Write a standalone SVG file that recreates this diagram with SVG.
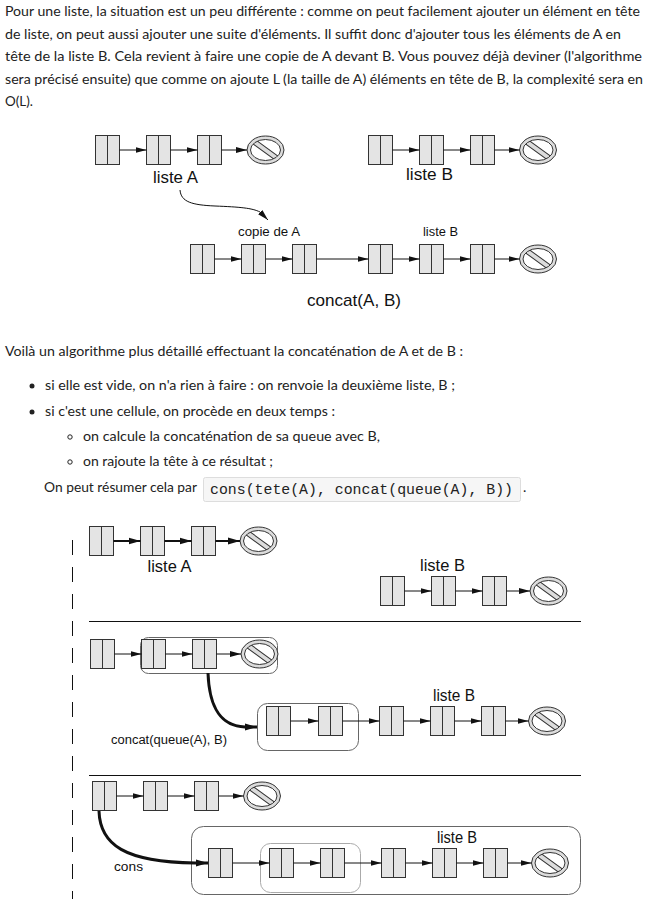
<svg xmlns="http://www.w3.org/2000/svg" xmlns:xlink="http://www.w3.org/1999/xlink" width="647" height="899" viewBox="0 0 647 899">
<style>
.p{font-family:Lato,"Source Sans Pro","Open Sans",sans-serif;font-size:14px;fill:#222}
.d{font-family:"Liberation Sans",Arial,sans-serif;fill:#111}
.code{font-family:"Liberation Mono","Courier New",monospace;font-size:14px;fill:#222}
.ln{stroke:#111;stroke-width:1;fill:none}
.lnb{stroke:#111;stroke-width:2;fill:none}
.curve{stroke:#111;stroke-width:3;fill:none}
.box{fill:none;stroke:#666;stroke-width:1}
.boxl{fill:none;stroke:#aaa;stroke-width:1}
</style>
<defs>
<g id="cell"><rect x="0" y="0" width="24" height="29" fill="#e4e4e4" stroke="#333"/><line x1="12" y1="0" x2="12" y2="29" stroke="#333"/></g>
<clipPath id="nc"><ellipse cx="0" cy="0" rx="15" ry="10.5"/></clipPath>
<g id="null">
<ellipse cx="0" cy="0" rx="18.5" ry="14" fill="#dcdcdc" stroke="#333"/>
<ellipse cx="0" cy="0" rx="15" ry="10.5" fill="#fff"/>
<g clip-path="url(#nc)"><rect x="-20" y="-2.4" width="40" height="4.8" fill="#dcdcdc" stroke="#333" transform="rotate(36)"/></g>
<ellipse cx="0" cy="0" rx="15" ry="10.5" fill="none" stroke="#333"/>
</g>
<marker id="ah" markerUnits="userSpaceOnUse" viewBox="0 0 11 7" refX="11" refY="3.5" markerWidth="11" markerHeight="7" orient="auto"><path d="M0,0.5 L11,3.5 L0,6.5 z" fill="#111"/></marker>
<marker id="ahb" markerUnits="userSpaceOnUse" viewBox="0 0 12 8" refX="12" refY="4" markerWidth="12" markerHeight="8" orient="auto"><path d="M0,0.5 L12,4 L0,7.5 z" fill="#111"/></marker>
</defs>

<g id="paragraph1" class="p">
<text x="5" y="16" textLength="635" lengthAdjust="spacingAndGlyphs">Pour une liste, la situation est un peu différente : comme on peut facilement ajouter un élément en tête</text>
<text x="5" y="38.6" textLength="616" lengthAdjust="spacingAndGlyphs">de liste, on peut aussi ajouter une suite d'éléments. Il suffit donc d'ajouter tous les éléments de A en</text>
<text x="5" y="61.2" textLength="637" lengthAdjust="spacingAndGlyphs">tête de la liste B. Cela revient à faire une copie de A devant B. Vous pouvez déjà deviner (l'algorithme</text>
<text x="5" y="83.8" textLength="638" lengthAdjust="spacingAndGlyphs">sera précisé ensuite) que comme on ajoute L (la taille de A) éléments en tête de B, la complexité sera en</text>
<text x="5" y="106.4" textLength="28" lengthAdjust="spacingAndGlyphs">O(L).</text>
</g>

<!-- Diagram 1 -->
<g id="d1-A1"><use xlink:href="#cell" x="95.5" y="135.5"/></g>
<g id="d1-A2"><use xlink:href="#cell" x="146.5" y="135.5"/></g>
<g id="d1-A3"><use xlink:href="#cell" x="197.5" y="135.5"/></g>
<g id="d1-Anull"><use xlink:href="#null" x="265.5" y="150"/></g>
<g id="d1-B1"><use xlink:href="#cell" x="368.5" y="135.5"/></g>
<g id="d1-B2"><use xlink:href="#cell" x="419.5" y="135.5"/></g>
<g id="d1-B3"><use xlink:href="#cell" x="470.5" y="135.5"/></g>
<g id="d1-Bnull"><use xlink:href="#null" x="538" y="150"/></g>
<g id="d1-C1"><use xlink:href="#cell" x="190.5" y="244.5"/></g>
<g id="d1-C2"><use xlink:href="#cell" x="241.5" y="244.5"/></g>
<g id="d1-C3"><use xlink:href="#cell" x="292.5" y="244.5"/></g>
<g id="d1-C4"><use xlink:href="#cell" x="368.5" y="244.5"/></g>
<g id="d1-C5"><use xlink:href="#cell" x="419.5" y="244.5"/></g>
<g id="d1-C6"><use xlink:href="#cell" x="470.5" y="244.5"/></g>
<g id="d1-Cnull"><use xlink:href="#null" x="538" y="259"/></g>
<g id="d1-labels" class="d">
<text x="153" y="183" font-size="16.5" textLength="45" lengthAdjust="spacingAndGlyphs">liste A</text>
<text x="406" y="180" font-size="16.5" textLength="47" lengthAdjust="spacingAndGlyphs">liste B</text>
<text x="238" y="236" font-size="12" textLength="62" lengthAdjust="spacingAndGlyphs">copie de A</text>
<text x="423" y="236" font-size="12" textLength="35" lengthAdjust="spacingAndGlyphs">liste B</text>
<text x="307" y="306" font-size="17" textLength="94" lengthAdjust="spacingAndGlyphs">concat(A, B)</text>
</g>

<!-- Text block 2 -->
<g id="paragraph2" class="p">
<text x="5" y="356" textLength="458" lengthAdjust="spacingAndGlyphs">Voilà un algorithme plus détaillé effectuant la concaténation de A et de B :</text>
<circle cx="32" cy="386" r="2.5" fill="#222"/>
<text x="45" y="390" textLength="410" lengthAdjust="spacingAndGlyphs">si elle est vide, on n'a rien à faire : on renvoie la deuxième liste, B ;</text>
<circle cx="32" cy="412" r="2.5" fill="#222"/>
<text x="45" y="416" textLength="290" lengthAdjust="spacingAndGlyphs">si c'est une cellule, on procède en deux temps :</text>
<circle cx="70" cy="437" r="2.2" fill="none" stroke="#222" stroke-width="1"/>
<text x="83" y="441" textLength="297" lengthAdjust="spacingAndGlyphs">on calcule la concaténation de sa queue avec B,</text>
<circle cx="70" cy="462" r="2.2" fill="none" stroke="#222" stroke-width="1"/>
<text x="83" y="466" textLength="190" lengthAdjust="spacingAndGlyphs">on rajoute la tête à ce résultat ;</text>
<text x="44" y="492" textLength="153" lengthAdjust="spacingAndGlyphs">On peut résumer cela par</text>
<rect x="203.5" y="477.5" width="317" height="24" rx="2" fill="#f6f6f6" stroke="#ddd"/>
<text x="210" y="494" class="code" textLength="303" lengthAdjust="spacingAndGlyphs">cons(tete(A), concat(queue(A), B))</text>
<text x="523" y="492">.</text>
</g>

<!-- Diagram 2 -->
<g id="dashed"><line x1="72.5" y1="540" x2="72.5" y2="899" stroke="#111" stroke-width="1" stroke-dasharray="15 12"/></g>
<g id="separators">
<line x1="89" y1="621.5" x2="581" y2="621.5" stroke="#111"/>
<line x1="89" y1="775.5" x2="581" y2="775.5" stroke="#111"/>
</g>

<g id="s1-A1"><use xlink:href="#cell" x="89.5" y="526.5"/></g>
<g id="s1-A2"><use xlink:href="#cell" x="140.5" y="526.5"/></g>
<g id="s1-A3"><use xlink:href="#cell" x="191.5" y="526.5"/></g>
<g id="s1-Anull"><use xlink:href="#null" x="258.5" y="541"/></g>
<g id="s1-B1"><use xlink:href="#cell" x="380.5" y="576.5"/></g>
<g id="s1-B2"><use xlink:href="#cell" x="431.5" y="576.5"/></g>
<g id="s1-B3"><use xlink:href="#cell" x="482.5" y="576.5"/></g>
<g id="s1-Bnull"><use xlink:href="#null" x="548.5" y="591"/></g>

<g id="s2-box1"><rect class="box" x="140.5" y="637.5" width="137" height="36" rx="8"/></g>
<g id="s2-A1"><use xlink:href="#cell" x="90.5" y="639.5"/></g>
<g id="s2-A2"><use xlink:href="#cell" x="141.5" y="639.5"/></g>
<g id="s2-A3"><use xlink:href="#cell" x="192.5" y="639.5"/></g>
<g id="s2-Anull"><use xlink:href="#null" x="259.5" y="654"/></g>
<g id="s2-box2"><rect class="box" x="257.5" y="703.5" width="101" height="47" rx="10"/></g>
<g id="s2-C1"><use xlink:href="#cell" x="266.5" y="706.5"/></g>
<g id="s2-C2"><use xlink:href="#cell" x="318.5" y="706.5"/></g>
<g id="s2-C3"><use xlink:href="#cell" x="379.5" y="706.5"/></g>
<g id="s2-C4"><use xlink:href="#cell" x="430.5" y="706.5"/></g>
<g id="s2-C5"><use xlink:href="#cell" x="481.5" y="706.5"/></g>
<g id="s2-Cnull"><use xlink:href="#null" x="547" y="721"/></g>

<g id="s3-bigbox"><rect class="box" x="191.5" y="826.5" width="389" height="68" rx="12"/></g>
<g id="s3-innerbox"><rect class="boxl" x="260.5" y="843.5" width="100" height="49" rx="10"/></g>
<g id="s3-A1"><use xlink:href="#cell" x="92.5" y="781.5"/></g>
<g id="s3-A2"><use xlink:href="#cell" x="143.5" y="781.5"/></g>
<g id="s3-A3"><use xlink:href="#cell" x="194.5" y="781.5"/></g>
<g id="s3-Anull"><use xlink:href="#null" x="262" y="796"/></g>
<g id="s3-C1"><use xlink:href="#cell" x="208.5" y="848.5"/></g>
<g id="s3-C2"><use xlink:href="#cell" x="269.5" y="848.5"/></g>
<g id="s3-C3"><use xlink:href="#cell" x="320.5" y="848.5"/></g>
<g id="s3-C4"><use xlink:href="#cell" x="381.5" y="848.5"/></g>
<g id="s3-C5"><use xlink:href="#cell" x="432.5" y="848.5"/></g>
<g id="s3-C6"><use xlink:href="#cell" x="483.5" y="848.5"/></g>
<g id="s3-Cnull"><use xlink:href="#null" x="550" y="863"/></g>

<g id="d2-labels" class="d">
<text x="147.5" y="572" font-size="16.5" textLength="44" lengthAdjust="spacingAndGlyphs">liste A</text>
<text x="420" y="571" font-size="16.5" textLength="45" lengthAdjust="spacingAndGlyphs">liste B</text>
<text x="433" y="701" font-size="16" textLength="42" lengthAdjust="spacingAndGlyphs">liste B</text>
<text x="111" y="744" font-size="12.5" textLength="116" lengthAdjust="spacingAndGlyphs">concat(queue(A), B)</text>
<text x="437" y="843" font-size="16" textLength="40" lengthAdjust="spacingAndGlyphs">liste B</text>
<text x="114" y="871" font-size="13" textLength="29" lengthAdjust="spacingAndGlyphs">cons</text>
</g>

<g id="connectors">
<!-- diagram 1 -->
<path class="ln" marker-end="url(#ah)" d="M119.5,150 H146.5"/>
<path class="ln" marker-end="url(#ah)" d="M170.5,150 H197.5"/>
<path class="ln" marker-end="url(#ah)" d="M221.5,150 H247"/>
<path class="ln" marker-end="url(#ah)" d="M392.5,150 H419.5"/>
<path class="ln" marker-end="url(#ah)" d="M443.5,150 H470.5"/>
<path class="ln" marker-end="url(#ah)" d="M494.5,150 H519.5"/>
<path class="ln" marker-end="url(#ah)" d="M214.5,259 H241.5"/>
<path class="ln" marker-end="url(#ah)" d="M265.5,259 H292.5"/>
<path class="ln" marker-end="url(#ah)" d="M316.5,259 H368.5"/>
<path class="ln" marker-end="url(#ah)" d="M392.5,259 H419.5"/>
<path class="ln" marker-end="url(#ah)" d="M443.5,259 H470.5"/>
<path class="ln" marker-end="url(#ah)" d="M494.5,259 H519.5"/>
<path class="ln" marker-end="url(#ah)" d="M180,190 C181,202 192,205 215,206 C240,207 252,208 260,212 L268,220"/>
<!-- section 1 -->
<path class="lnb" marker-end="url(#ahb)" d="M113.5,541 H140.5"/>
<path class="lnb" marker-end="url(#ahb)" d="M164.5,541 H191.5"/>
<path class="lnb" marker-end="url(#ahb)" d="M215.5,541 H240"/>
<path class="ln" marker-end="url(#ah)" d="M404.5,591 H431.5"/>
<path class="ln" marker-end="url(#ah)" d="M455.5,591 H482.5"/>
<path class="ln" marker-end="url(#ah)" d="M506.5,591 H530"/>
<!-- section 2 -->
<path class="ln" marker-end="url(#ah)" d="M114.5,654 H141.5"/>
<path class="ln" marker-end="url(#ah)" d="M165.5,654 H192.5"/>
<path class="ln" marker-end="url(#ah)" d="M216.5,654 H241"/>
<path class="ln" marker-end="url(#ah)" d="M290.5,721 H318.5"/>
<path class="ln" marker-end="url(#ah)" d="M342.5,721 H379.5"/>
<path class="ln" marker-end="url(#ah)" d="M403.5,721 H430.5"/>
<path class="ln" marker-end="url(#ah)" d="M454.5,721 H481.5"/>
<path class="ln" marker-end="url(#ah)" d="M505.5,721 H528.5"/>
<path class="curve" marker-end="url(#ahb)" d="M208,673 C209,700 216,726 245,727 L257,727"/>
<!-- section 3 -->
<path class="ln" marker-end="url(#ah)" d="M116.5,796 H143.5"/>
<path class="ln" marker-end="url(#ah)" d="M167.5,796 H194.5"/>
<path class="ln" marker-end="url(#ah)" d="M218.5,796 H243.5"/>
<path class="ln" marker-end="url(#ah)" d="M232.5,863 H269.5"/>
<path class="ln" marker-end="url(#ah)" d="M293.5,863 H320.5"/>
<path class="ln" marker-end="url(#ah)" d="M344.5,863 H381.5"/>
<path class="ln" marker-end="url(#ah)" d="M405.5,863 H432.5"/>
<path class="ln" marker-end="url(#ah)" d="M456.5,863 H483.5"/>
<path class="ln" marker-end="url(#ah)" d="M507.5,863 H531.5"/>
<path class="curve" marker-end="url(#ahb)" d="M99,811 C100,845 125,862 195,863 L208,863"/>
</g>
</svg>
